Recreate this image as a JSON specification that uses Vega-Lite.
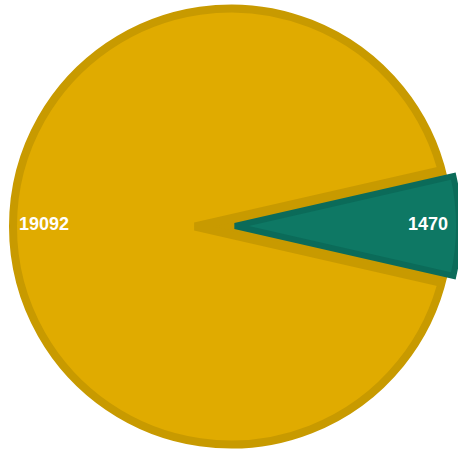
{
  "$schema": "https://vega.github.io/schema/vega-lite/v6.json",
  "width": 458,
  "height": 454,
  "autosize": {"type": "none"},
  "padding": 0,
  "background": "white",
  "view": {"stroke": null},
  "data": {"values": [
    {"category": "A", "value": 19092},
    {"category": "B", "value": 1470}
  ]},
  "encoding": {
    "theta": {"field": "value", "type": "quantitative", "stack": true, "scale": {"range": [1.3462, 7.6294]}},
    "order": {"field": "category", "sort": "descending"}
  },
  "layer": [
    {
      "mark": {"type": "arc", "radius": 218, "xOffset": 2, "yOffset": -0.5, "stroke": "#C89A00", "strokeWidth": 8, "strokeJoin": "round"},
      "encoding": {
        "fill": {"condition": {"test": "datum.category === 'A'", "value": "#E0AB00"}, "value": "#C89A00"}
      }
    },
    {
      "mark": {"type": "arc", "radius": 251, "xOffset": -34, "yOffset": -0.5, "fill": "#C89A00", "stroke": "#C89A00", "strokeWidth": 8},
      "encoding": {
        "opacity": {"condition": {"test": "datum.category === 'B'", "value": 1}, "value": 0}
      }
    },
    {
      "mark": {"type": "arc", "radius": 224, "xOffset": 6, "yOffset": -1, "fill": "#0E7864", "stroke": "#0B6B59", "strokeWidth": 6},
      "encoding": {
        "opacity": {"condition": {"test": "datum.category === 'B'", "value": 1}, "value": 0}
      }
    },
    {
      "mark": {"type": "text", "radius": 186, "xOffset": 1, "yOffset": -2, "color": "white", "font": "Liberation Sans", "fontWeight": "bold", "fontSize": 18},
      "encoding": {
        "text": {"field": "value", "type": "quantitative", "format": "d"},
        "opacity": {"condition": {"test": "datum.category === 'A'", "value": 1}, "value": 0}
      }
    },
    {
      "mark": {"type": "text", "radius": 193, "xOffset": 6, "yOffset": -2, "color": "white", "font": "Liberation Sans", "fontWeight": "bold", "fontSize": 18},
      "encoding": {
        "text": {"field": "value", "type": "quantitative", "format": "d"},
        "opacity": {"condition": {"test": "datum.category === 'B'", "value": 1}, "value": 0}
      }
    }
  ]
}
